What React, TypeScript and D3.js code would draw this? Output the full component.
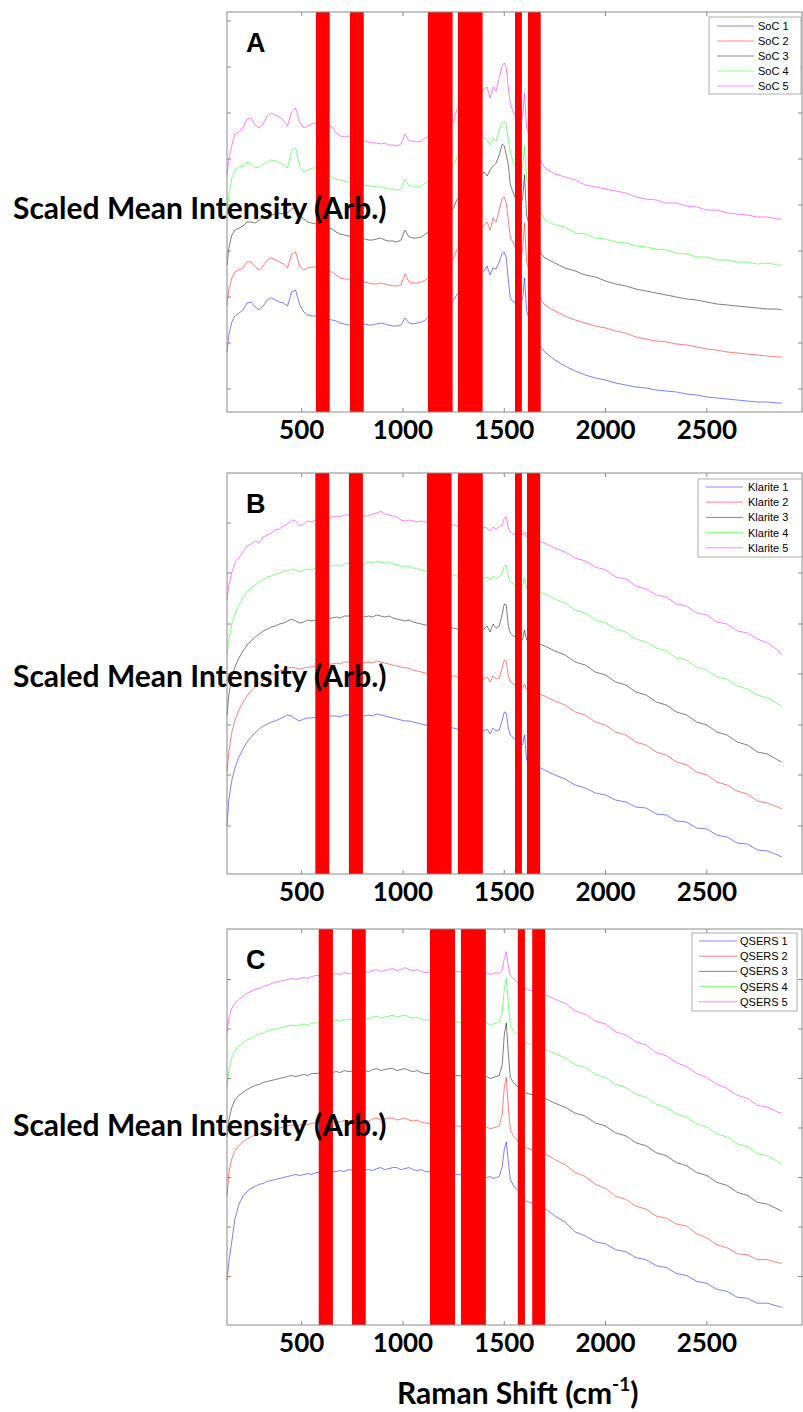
import React from 'react';
import * as d3 from 'd3';

// Raman shift sample positions (cm^-1), shared by every spectrum
const WAVENUMBER = [
  131, 140, 155, 170, 190, 210, 230, 250, 270, 290,
  310, 330, 350, 370, 390, 410, 430, 450, 470, 490,
  510, 530, 550, 570, 600, 650, 670, 690, 710, 730,
  770, 810, 830, 850, 870, 890, 910, 930, 950, 970,
  990, 1010, 1030, 1050, 1070, 1090, 1110, 1185, 1250, 1265,
  1330, 1400, 1415, 1430, 1445, 1460, 1475, 1490, 1500, 1510,
  1520, 1530, 1545, 1570, 1590, 1600, 1610, 1650, 1700, 1750,
  1800, 1850, 1900, 1950, 2000, 2050, 2100, 2150, 2200, 2250,
  2300, 2350, 2400, 2450, 2500, 2550, 2600, 2650, 2700, 2750,
  2800, 2850, 2870,
];

// Panel A: SoC (stacked, arbitrary units)
const SOC_1 = [
  60, 77, 90, 96, 99, 102, 109, 110, 105, 102,
  106, 112, 114, 112, 110, 109, 106, 120, 122, 107,
  100, 97, 96, 96, 94, 92, 91, 89, 88, 87,
  87, 88, 87, 87, 88, 89, 88, 87, 86, 86,
  87, 94, 89, 88, 89, 90, 92, 107, 112, 117,
  132, 141, 146, 137, 144, 143, 150, 159, 160, 154,
  132, 114, 110, 107, 112, 134, 102, 72, 60, 52,
  46, 41, 37, 34, 32, 29, 27, 25, 24, 22,
  21, 20, 18, 17, 15, 14, 13, 12, 11, 10,
  10, 9, 9,
];
const SOC_2 = [
  107, 122, 134, 140, 142, 144, 150, 150, 145, 142,
  146, 152, 154, 152, 150, 148, 144, 158, 160, 146,
  142, 144, 145, 145, 142, 140, 137, 134, 133, 133,
  131, 130, 129, 128, 128, 129, 128, 127, 126, 126,
  127, 138, 130, 129, 129, 130, 132, 142, 154, 162,
  177, 187, 190, 182, 194, 190, 202, 214, 215, 209,
  192, 174, 169, 157, 160, 189, 150, 122, 107, 101,
  96, 92, 89, 86, 84, 81, 79, 75, 73, 71,
  70, 68, 67, 65, 63, 62, 60, 59, 58, 57,
  56, 55, 55,
];
const SOC_3 = [
  147, 164, 177, 182, 184, 186, 190, 190, 189, 192,
  195, 196, 197, 198, 199, 198, 199, 203, 205, 196,
  193, 190, 189, 188, 186, 183, 180, 178, 177, 176,
  174, 173, 172, 172, 173, 174, 172, 171, 171, 170,
  172, 182, 175, 174, 174, 175, 178, 187, 204, 212,
  227, 240, 236, 242, 246, 249, 257, 268, 266, 257,
  247, 227, 219, 207, 212, 237, 197, 167, 154, 149,
  144, 141, 137, 135, 131, 128, 126, 123, 121, 119,
  117, 115, 113, 112, 110, 108, 107, 106, 105, 104,
  103, 103, 102,
];
const SOC_4 = [
  197, 217, 234, 242, 245, 246, 250, 248, 244, 245,
  248, 250, 252, 251, 249, 247, 244, 262, 264, 246,
  240, 242, 244, 244, 240, 235, 233, 232, 231, 230,
  228, 227, 226, 226, 225, 225, 224, 223, 223, 222,
  223, 233, 226, 226, 225, 226, 229, 237, 247, 254,
  267, 275, 272, 267, 274, 271, 282, 289, 291, 288,
  272, 260, 249, 242, 244, 266, 234, 212, 192, 187,
  185, 179, 178, 174, 173, 170, 169, 166, 165, 163,
  162, 159, 158, 155, 155, 152, 152, 150, 150, 148,
  149, 147, 147,
];
const SOC_5 = [
  237, 252, 267, 278, 280, 284, 293, 294, 287, 284,
  288, 296, 299, 297, 295, 292, 286, 300, 304, 290,
  284, 286, 288, 289, 288, 285, 279, 276, 275, 276,
  273, 271, 270, 269, 269, 268, 269, 267, 267, 266,
  268, 278, 271, 271, 270, 271, 274, 282, 290, 302,
  317, 322, 325, 314, 325, 321, 334, 346, 349, 344,
  324, 309, 299, 292, 294, 319, 284, 262, 244, 238,
  235, 232, 227, 225, 223, 221, 219, 215, 213, 212,
  209, 209, 206, 205, 202, 202, 199, 198, 197, 195,
  195, 193, 193,
];

// Panel B: Klarite
const KLARITE_1 = [
  48, 74, 94, 106, 117, 125, 132, 137, 141, 145,
  148, 150, 152, 153, 155, 157, 159, 158, 155, 153,
  155, 156, 156, 157, 157, 158, 158, 157, 159, 159,
  159, 158, 159, 158, 160, 159, 158, 157, 156, 155,
  154, 153, 153, 152, 151, 150, 149, 147, 146, 145,
  144, 143, 145, 140, 146, 143, 144, 154, 162, 161,
  146, 139, 136, 132, 129, 139, 114, 109, 104, 99,
  95, 89, 86, 81, 79, 74, 72, 67, 66, 60,
  59, 53, 52, 46, 45, 39, 37, 31, 30, 24,
  23, 19, 17,
];
const KLARITE_2 = [
  102, 122, 142, 154, 164, 172, 178, 183, 187, 191,
  194, 197, 199, 201, 203, 204, 206, 207, 206, 205,
  206, 207, 207, 208, 209, 210, 211, 210, 212, 212,
  212, 211, 212, 211, 213, 212, 211, 210, 209, 208,
  207, 206, 206, 204, 203, 202, 201, 199, 198, 197,
  196, 195, 197, 192, 198, 195, 196, 206, 214, 213,
  198, 192, 190, 188, 186, 190, 185, 182, 178, 173,
  169, 162, 159, 152, 149, 142, 139, 132, 129, 122,
  119, 112, 109, 102, 99, 92, 89, 83, 80, 73,
  71, 67, 65,
];
const KLARITE_3 = [
  159, 179, 197, 207, 216, 223, 229, 233, 237, 240,
  243, 245, 247, 248, 250, 251, 253, 255, 253, 251,
  252, 254, 253, 254, 255, 256, 257, 256, 258, 258,
  258, 257, 258, 257, 259, 258, 257, 258, 256, 255,
  254, 253, 254, 252, 251, 250, 249, 247, 246, 245,
  244, 245, 248, 242, 250, 246, 248, 260, 270, 269,
  248, 241, 238, 236, 234, 244, 234, 232, 228, 223,
  219, 212, 209, 202, 199, 192, 189, 182, 179, 172,
  169, 162, 159, 152, 149, 142, 139, 132, 129, 122,
  120, 114, 112,
];
const KLARITE_4 = [
  219, 234, 250, 260, 269, 276, 282, 286, 289, 292,
  294, 297, 298, 300, 301, 303, 303, 305, 304, 302,
  304, 305, 304, 306, 307, 308, 309, 308, 310, 311,
  311, 310, 312, 311, 313, 312, 311, 312, 310, 309,
  308, 307, 308, 306, 305, 304, 303, 301, 299, 298,
  297, 296, 297, 294, 298, 296, 297, 301, 308, 309,
  297, 292, 290, 289, 289, 296, 286, 284, 280, 275,
  271, 264, 261, 254, 251, 245, 242, 235, 232, 226,
  223, 216, 214, 207, 204, 197, 195, 188, 185, 179,
  176, 170, 168,
];
const KLARITE_5 = [
  274, 289, 302, 311, 316, 322, 328, 330, 333, 331,
  337, 339, 341, 344, 345, 348, 350, 354, 353, 348,
  350, 353, 352, 354, 356, 357, 358, 357, 359, 359,
  359, 358, 358, 360, 361, 363, 360, 359, 358, 357,
  354, 353, 354, 353, 352, 353, 352, 350, 349, 348,
  347, 347, 346, 343, 347, 345, 347, 349, 356, 357,
  346, 342, 340, 339, 339, 342, 337, 334, 331, 326,
  322, 316, 313, 307, 304, 297, 295, 288, 285, 279,
  277, 270, 268, 261, 259, 252, 250, 243, 241, 235,
  231, 224, 219,
];

// Panel C: QSERS
const QSERS_1 = [
  45, 63, 85, 107, 122, 130, 135, 138, 140, 142,
  143, 145, 146, 147, 148, 149, 150, 151, 152, 151,
  152, 153, 152, 154, 154, 155, 155, 156, 155, 157,
  156, 157, 157, 156, 158, 159, 157, 158, 159, 159,
  157, 158, 159, 157, 156, 157, 155, 154, 153, 152,
  151, 150, 149, 150, 148, 149, 150, 160, 177, 185,
  165, 147, 141, 135, 130, 127, 125, 122, 118, 110,
  104, 94, 90, 84, 82, 76, 74, 68, 66, 60,
  58, 52, 50, 44, 42, 36, 34, 28, 27, 22,
  22, 19, 18,
];
const QSERS_2 = [
  130, 153, 168, 176, 181, 185, 188, 190, 192, 193,
  195, 196, 197, 198, 199, 200, 201, 202, 201, 202,
  203, 202, 204, 204, 205, 205, 206, 205, 207, 206,
  207, 207, 206, 208, 209, 207, 208, 209, 209, 207,
  208, 209, 207, 206, 207, 205, 204, 203, 202, 201,
  200, 199, 200, 198, 199, 200, 201, 213, 240, 250,
  220, 197, 191, 185, 182, 180, 179, 176, 173, 167,
  162, 154, 150, 142, 138, 130, 127, 120, 117, 110,
  108, 102, 100, 92, 88, 81, 78, 72, 71, 66,
  66, 63, 62,
];
const QSERS_3 = [
  190, 207, 220, 227, 232, 235, 238, 240, 242, 243,
  245, 246, 247, 248, 249, 250, 251, 252, 251, 252,
  253, 252, 254, 254, 255, 255, 256, 255, 257, 256,
  257, 257, 256, 258, 259, 257, 258, 259, 259, 257,
  258, 259, 257, 256, 257, 255, 254, 254, 253, 252,
  251, 250, 251, 249, 250, 251, 252, 263, 293, 305,
  275, 250, 245, 240, 237, 235, 234, 232, 229, 224,
  220, 214, 211, 204, 201, 194, 191, 184, 181, 174,
  171, 164, 161, 154, 151, 144, 141, 134, 131, 124,
  122, 117, 115,
];
const QSERS_4 = [
  240, 257, 270, 277, 282, 285, 288, 290, 292, 294,
  295, 297, 298, 299, 300, 301, 302, 303, 302, 303,
  304, 303, 305, 305, 306, 307, 308, 307, 309, 308,
  309, 310, 309, 311, 312, 310, 311, 312, 313, 311,
  312, 313, 311, 310, 311, 309, 308, 308, 307, 306,
  305, 304, 305, 303, 304, 305, 306, 315, 340, 350,
  325, 303, 297, 292, 288, 286, 285, 282, 279, 274,
  270, 263, 260, 253, 250, 243, 240, 233, 230, 223,
  220, 213, 210, 203, 200, 193, 190, 183, 180, 173,
  171, 165, 162,
];
const QSERS_5 = [
  295, 310, 320, 325, 329, 332, 335, 337, 339, 340,
  342, 343, 345, 346, 347, 348, 349, 350, 349, 350,
  351, 350, 352, 353, 353, 354, 355, 354, 356, 355,
  356, 357, 356, 358, 359, 357, 358, 359, 360, 358,
  359, 361, 359, 358, 359, 357, 356, 357, 358, 357,
  356, 355, 356, 354, 355, 356, 355, 359, 370, 377,
  363, 353, 350, 345, 342, 340, 339, 337, 334, 329,
  325, 317, 314, 307, 304, 296, 293, 286, 283, 275,
  272, 265, 261, 254, 250, 243, 239, 232, 229, 222,
  220, 215, 214,
];

// excluded bands (cm^-1), drawn as red blocks
const BANDS_A = [[570, 638], [738, 806], [1123, 1245], [1271, 1393], [1553, 1587], [1617, 1680]];
const BANDS_B = [[567, 636], [733, 802], [1118, 1240], [1271, 1394], [1553, 1587], [1612, 1677]];
const BANDS_C = [[584, 654], [748, 816], [1133, 1257], [1286, 1409], [1567, 1602], [1638, 1702]];

const X_TICKS = [500, 1000, 1500, 2000, 2500];
const Y_TICKS_A = [23, 69, 115, 161, 207, 253, 299, 345, 391];
const Y_TICKS_B = [48, 99, 149, 200, 250, 301, 351];
const Y_TICKS_C = [49, 99, 149, 199, 249, 299, 349];

const NAMES_A = ['SoC 1', 'SoC 2', 'SoC 3', 'SoC 4', 'SoC 5'];
const NAMES_B = ['Klarite 1', 'Klarite 2', 'Klarite 3', 'Klarite 4', 'Klarite 5'];
const NAMES_C = ['QSERS 1', 'QSERS 2', 'QSERS 3', 'QSERS 4', 'QSERS 5'];

const COLORS = ['#0000ff', '#ff0000', '#000000', '#00ff00', '#ff00ff'];

const W = 803;
const H = 1412;
const AXIS = '#8a8a8a';
const BIG_FONT = 'Lato, "Open Sans", sans-serif';
const SMALL_FONT = '"Liberation Sans", Arial, sans-serif';

const PANELS = [
  {
    letter: 'A', series: [SOC_1, SOC_2, SOC_3, SOC_4, SOC_5], names: NAMES_A,
    bands: BANDS_A, yTicks: Y_TICKS_A, top: 12, bottom: 412, yMax: 400,
    labelY: 219, letterY: 52,
    legend: { x: 709, y: 17, w: 92, h: 77, lineX: 717, lineX2: 754, textX: 758, row0: 26, rowH: 15 },
  },
  {
    letter: 'B', series: [KLARITE_1, KLARITE_2, KLARITE_3, KLARITE_4, KLARITE_5], names: NAMES_B,
    bands: BANDS_B, yTicks: Y_TICKS_B, top: 473, bottom: 874, yMax: 401,
    labelY: 687, letterY: 513,
    legend: { x: 698, y: 479, w: 104, h: 78, lineX: 706, lineX2: 743, textX: 748, row0: 487, rowH: 15.2 },
  },
  {
    letter: 'C', series: [QSERS_1, QSERS_2, QSERS_3, QSERS_4, QSERS_5], names: NAMES_C,
    bands: BANDS_C, yTicks: Y_TICKS_C, top: 929, bottom: 1325, yMax: 400,
    labelY: 1136, letterY: 969,
    legend: { x: 692, y: 933, w: 105, h: 78, lineX: 699, lineX2: 737, textX: 740, row0: 941, rowH: 15.2 },
  },
];

const x = d3.scaleLinear().domain([131, 2970]).range([227, 802]);

function Panel({ p }: { p: typeof PANELS[number] }) {
  const y = d3.scaleLinear().domain([0, p.yMax]).range([p.bottom, p.top]);
  const line = d3.line<number>()
    .x((_, i) => x(WAVENUMBER[i]))
    .y(d => y(d));
  const [x0, x1] = x.range();
  const lg = p.legend;

  return (
    <g>
      {p.series.map((s, i) => (
        <path key={i} d={line(s) || ''} fill="none" stroke={COLORS[i]}
          strokeWidth={0.6} strokeOpacity={0.85} strokeLinejoin="round" />
      ))}

      {p.bands.map(([a, b], i) => (
        <rect key={i} x={x(a)} y={p.top} width={x(b) - x(a)} height={p.bottom - p.top} fill="#ff0000" />
      ))}

      <rect x={x0} y={p.top} width={x1 - x0} height={p.bottom - p.top} fill="none" stroke={AXIS} strokeWidth={1} />
      {X_TICKS.map(t => (
        <g key={t}>
          <line x1={x(t)} x2={x(t)} y1={p.bottom} y2={p.bottom - 4} stroke={AXIS} />
          <line x1={x(t)} x2={x(t)} y1={p.top} y2={p.top + 4} stroke={AXIS} />
          <text x={x(t)} y={p.bottom + 27} textAnchor="middle" fontFamily={BIG_FONT}
            fontWeight={700} fontSize={26} fill="#000">{t}</text>
        </g>
      ))}
      {p.yTicks.map(t => (
        <g key={t}>
          <line x1={x0} x2={x0 + 4} y1={y(t)} y2={y(t)} stroke={AXIS} />
          <line x1={x1} x2={x1 - 4} y1={y(t)} y2={y(t)} stroke={AXIS} />
        </g>
      ))}

      <text x={246} y={p.letterY} fontFamily={SMALL_FONT} fontWeight={700} fontSize={27} fill="#000">{p.letter}</text>

      <g>
        <rect x={lg.x} y={lg.y} width={lg.w} height={lg.h} fill="#fff" stroke="#999" strokeWidth={0.8} />
        {p.names.map((n, i) => {
          const ry = lg.row0 + i * lg.rowH;
          return (
            <g key={n}>
              <line x1={lg.lineX} x2={lg.lineX2} y1={ry} y2={ry} stroke={COLORS[i]}
                strokeWidth={0.8} strokeOpacity={0.6} />
              <text x={lg.textX} y={ry + 4} fontFamily={SMALL_FONT} fontSize={11} fill="#000">{n}</text>
            </g>
          );
        })}
      </g>

      <text x={13} y={p.labelY} fontFamily={BIG_FONT} fontWeight={700} fontSize={30} fill="#000">
        Scaled Mean Intensity (Arb.)
      </text>
    </g>
  );
}

export default function App() {
  return (
    <div style={{ position: 'absolute', left: 0, top: 0, background: '#fff' }}>
      <svg width={W} height={H} viewBox={`0 0 ${W} ${H}`} style={{ display: 'block' }}>
        <rect width={W} height={H} fill="#fff" />
        {PANELS.map(p => <Panel key={p.letter} p={p} />)}
        <text x={397} y={1404} fontFamily={BIG_FONT} fontWeight={700} fontSize={30} fill="#000">
          Raman Shift (cm<tspan dy={-13} fontSize={19}>-1</tspan><tspan dy={13}>)</tspan>
        </text>
      </svg>
    </div>
  );
}
